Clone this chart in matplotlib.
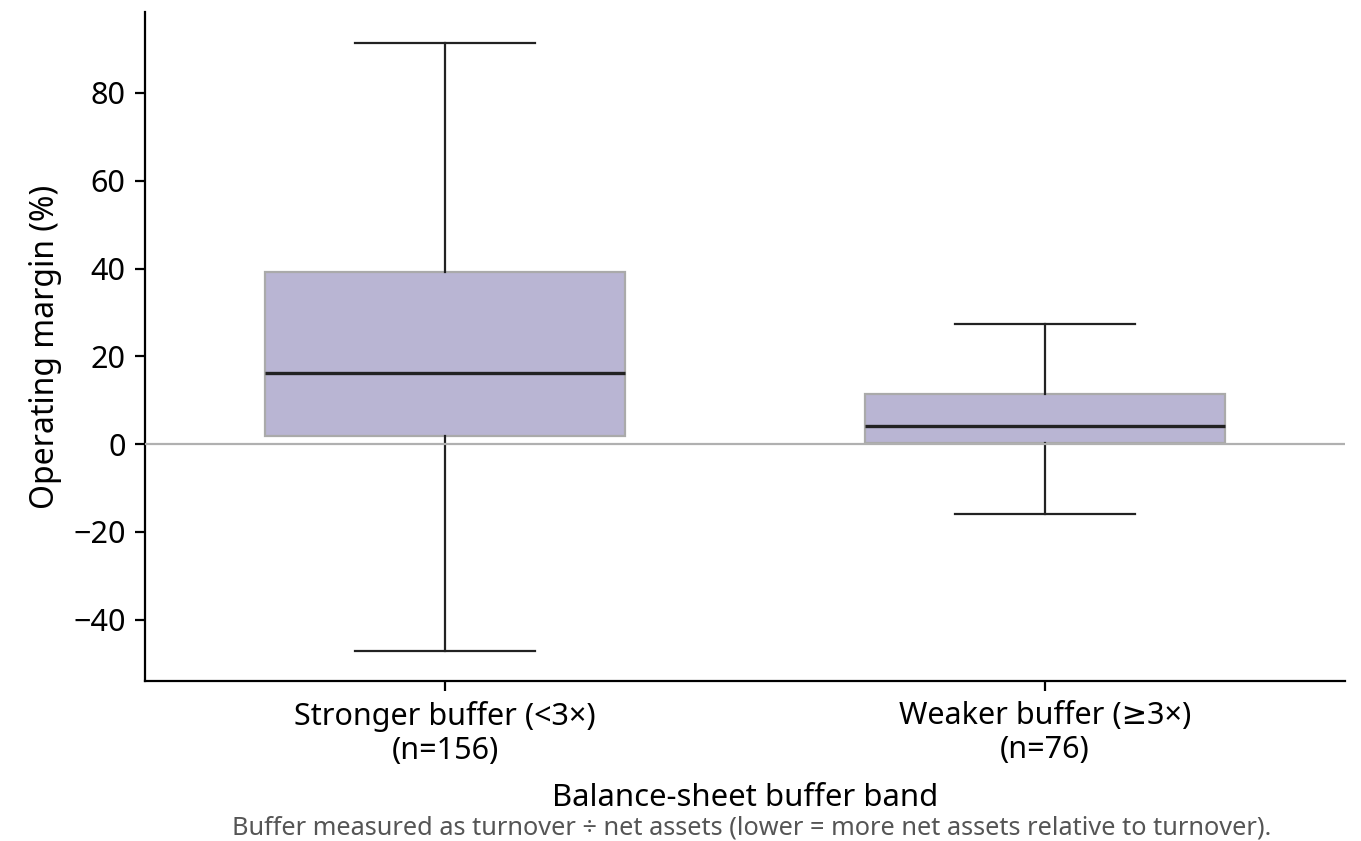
import matplotlib.pyplot as plt

plt.rcParams['font.family'] = ['Noto Sans', 'DejaVu Sans']

# Summary stats per buffer band (operating margin, %)
bands = ["Stronger buffer (<3×)\n(n=156)", "Weaker buffer (≥3×)\n(n=76)"]
whisker_low = [-47.2, -16.0]
q1 = [1.8, 0.2]
median = [16.2, 4.1]
q3 = [39.2, 11.4]
whisker_high = [91.4, 27.4]

stats = []
for i in range(len(bands)):
    stats.append({
        "whislo": whisker_low[i], "q1": q1[i], "med": median[i],
        "q3": q3[i], "whishi": whisker_high[i], "fliers": [],
    })

fig, ax = plt.subplots(figsize=(6.805, 4.205), dpi=200)
fig.subplots_adjust(left=0.1065, right=0.988, top=0.986, bottom=0.19)

ax.bxp(
    stats, positions=range(len(bands)), widths=0.6, patch_artist=True,
    showfliers=False,
    boxprops=dict(facecolor="#b9b5d3", edgecolor="#aaaaaa", linewidth=0.8),
    medianprops=dict(color="#222222", linewidth=1.2),
    whiskerprops=dict(color="#222222", linewidth=0.8),
    capprops=dict(color="#222222", linewidth=0.8),
    capwidths=0.3,
)

# zero reference line
ax.axhline(0, color="#b0b0b0", linewidth=0.8, zorder=5)

ax.set_xlim(-0.5, 1.5)
ax.set_ylim(-54, 98.5)
ax.set_yticks([-40, -20, 0, 20, 40, 60, 80])
ax.set_yticklabels(["−40", "−20", "0", "20", "40", "60", "80"])
ax.set_xticks(range(len(bands)))
ax.set_xticklabels(bands)
ax.tick_params(labelsize=11, width=0.8, length=3.5)

ax.set_ylabel("Operating margin (%)", fontsize=11.5)
ax.set_xlabel("Balance-sheet buffer band", fontsize=11.2, labelpad=6)

for side in ["top", "right"]:
    ax.spines[side].set_visible(False)
for side in ["left", "bottom"]:
    ax.spines[side].set_linewidth(0.8)

fig.text(0.552, 0.008,
         "Buffer measured as turnover ÷ net assets (lower = more net assets relative to turnover).",
         ha="center", va="baseline", fontsize=9.1, color="#555555")

fig.savefig("out.png", dpi=200)
